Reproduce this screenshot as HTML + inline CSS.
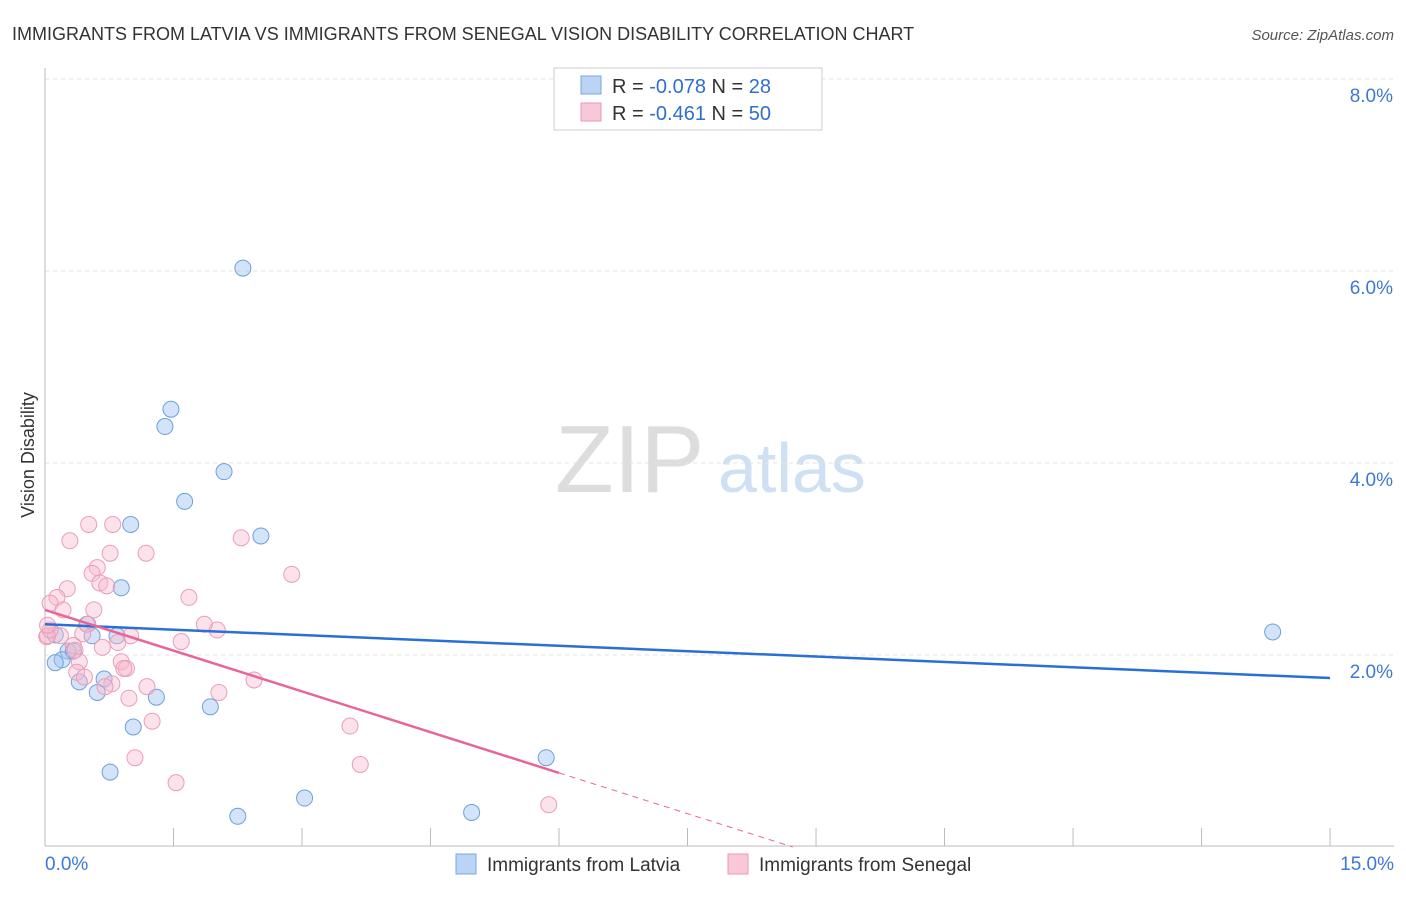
<!DOCTYPE html>
<html><head><meta charset="utf-8"><style>
body{margin:0;background:#fff;font-family:"Liberation Sans",sans-serif;}
svg text{font-family:"Liberation Sans",sans-serif;}
</style></head><body>
<svg id="chart" width="1406" height="892">
<text x="12" y="40" font-size="18" fill="#333">IMMIGRANTS FROM LATVIA VS IMMIGRANTS FROM SENEGAL VISION DISABILITY CORRELATION CHART</text>
<text x="1394" y="40" font-size="15" fill="#555" text-anchor="end" font-style="italic">Source: ZipAtlas.com</text>
<text x="34" y="455" font-size="18" fill="#333" text-anchor="middle" transform="rotate(-90 34 455)">Vision Disability</text>
<text x="555" y="492" font-size="96" fill="#ddd" font-family="Liberation Serif">ZIP</text>
<text x="718" y="492" font-size="70" fill="#cfe0f3">atlas</text>
<g id="grid"></g><g id="axes"></g><g id="marks"></g>
<g>
<rect x="554" y="68" width="268" height="62" fill="#fff" stroke="#ccc"/>
<rect x="581" y="76" width="20" height="18" fill="#b9d4f5" stroke="#7aa6dd"/>
<rect x="581" y="103" width="20" height="18" fill="#f9c8d6" stroke="#e99ab3"/>
<text x="612" y="93" font-size="20" fill="#333">R = <tspan fill="#2f6fd1">-0.078</tspan>   N = <tspan fill="#2f6fd1">28</tspan></text>
<text x="612" y="120" font-size="20" fill="#333">R =  <tspan fill="#2f6fd1">-0.461</tspan>   N = <tspan fill="#2f6fd1">50</tspan></text>
</g>
<g>
<rect x="456" y="854" width="20" height="20" fill="#b9d4f5" stroke="#7aa6dd"/>
<text x="487" y="871" font-size="19" fill="#333">Immigrants from Latvia</text>
<rect x="728" y="854" width="20" height="20" fill="#f9c8d6" stroke="#e99ab3"/>
<text x="759" y="871" font-size="19" fill="#333">Immigrants from Senegal</text>
</g>
</svg>
<script>
const yTicks=[2,4,6,8];
const yTickLabels=["2.0%","4.0%","6.0%","8.0%"];
const xTickLabels=["0.0%","15.0%"];
const latviaX=[2.31,1.47,1.40,2.09,1.63,1.00,2.52,0.89,0.49,0.55,0.84,0.12,0.27,0.33,0.20,0.12,0.40,0.69,0.61,1.30,1.93,1.03,5.85,0.76,3.03,4.98,2.25,14.33];
const latviaY=[6.03,4.56,4.38,3.91,3.60,3.36,3.24,2.70,2.32,2.20,2.20,2.21,2.04,2.04,1.95,1.92,1.72,1.75,1.61,1.56,1.46,1.25,0.93,0.78,0.51,0.36,0.32,2.24];
const senegalX=[0.51,0.79,0.29,2.29,0.76,1.18,0.61,0.55,2.88,0.64,0.72,0.26,0.14,1.68,0.06,0.57,0.21,1.86,0.50,2.01,0.44,0.02,1.00,0.18,1.59,0.85,0.33,0.35,0.67,0.40,0.89,0.95,0.92,0.37,2.44,0.46,0.78,1.19,2.03,0.70,0.98,1.25,3.56,1.05,3.68,1.53,5.88,0.03,0.06,0.03];
const senegalY=[3.36,3.36,3.19,3.22,3.06,3.06,2.91,2.85,2.84,2.75,2.72,2.69,2.60,2.60,2.54,2.47,2.47,2.32,2.32,2.26,2.22,2.19,2.20,2.20,2.14,2.13,2.10,2.05,2.08,1.93,1.93,1.86,1.86,1.82,1.74,1.77,1.70,1.67,1.61,1.67,1.55,1.31,1.26,0.93,0.86,0.67,0.44,2.20,2.26,2.31];
const latviaTrend=[2.32,1.76];
const senegalTrend=[2.47,-0.283];
const NS="http://www.w3.org/2000/svg";
const sx=v=>45+v*85.67, sy=v=>847-v*96;
function mk(t,a,p){const e=document.createElementNS(NS,t);for(const k in a)e.setAttribute(k,a[k]);document.getElementById(p).appendChild(e);return e;}
yTicks.forEach((t,i)=>{
 const g=mk('line',{x1:45,x2:1394,y1:sy(t),y2:sy(t),stroke:'#e3e3e3','stroke-dasharray':'4 4'},'grid');
 
 
 const l=mk('text',{x:1393,y:sy(t)+23,'text-anchor':'end','font-size':19,fill:'#3b78d8'},'axes');l.textContent=yTickLabels[i];
 
 
});
mk('line',{x1:45,x2:1394,y1:sy(8),y2:sy(8),stroke:'#e3e3e3','stroke-dasharray':'4 4'},'grid');
mk('line',{x1:45,x2:45,y1:68,y2:846,stroke:'#bbb'},'axes');
mk('line',{x1:45,x2:1394,y1:846,y2:846,stroke:'#bbb'},'axes');
for(let i=0;i<=10;i++){const t=mk('line',{x1:sx(i*1.5),x2:sx(i*1.5),y1:828,y2:846,stroke:'#bbb'},'axes');
 
 }
[[0,'start',45],[1,'end',1394]].forEach(([i,a,x])=>{const l=mk('text',{x:x,y:870,'text-anchor':a,'font-size':19,fill:'#3b78d8'},'axes');l.textContent=xTickLabels[i];
 
 });
latviaX.forEach((x,i)=>{const c=mk('circle',{cx:sx(x),cy:sy(latviaY[i]),r:8,fill:'rgba(160,196,240,0.45)',stroke:'#6d9fdc','stroke-width':1},'marks');
 
 });
senegalX.forEach((x,i)=>{const c=mk('circle',{cx:sx(x),cy:sy(senegalY[i]),r:8,fill:'rgba(248,184,204,0.4)',stroke:'#ec9cb6','stroke-width':1},'marks');
 
 });
const bl=mk('line',{x1:sx(0),y1:sy(latviaTrend[0]),x2:sx(15),y2:sy(latviaTrend[1]),stroke:'#2a6fd6','stroke-width':2.5},'marks');


const se=6.0, z=-senegalTrend[0]/senegalTrend[1];
const pl=mk('line',{x1:sx(0),y1:sy(senegalTrend[0]),x2:sx(se),y2:sy(senegalTrend[0]+senegalTrend[1]*se),stroke:'#e8659a','stroke-width':2.5},'marks');


const pd=mk('line',{x1:sx(se),y1:sy(senegalTrend[0]+senegalTrend[1]*se),x2:sx(z),y2:sy(0),stroke:'#e8659a','stroke-width':1,'stroke-dasharray':'6 5'},'marks');


</script>
</body></html>
